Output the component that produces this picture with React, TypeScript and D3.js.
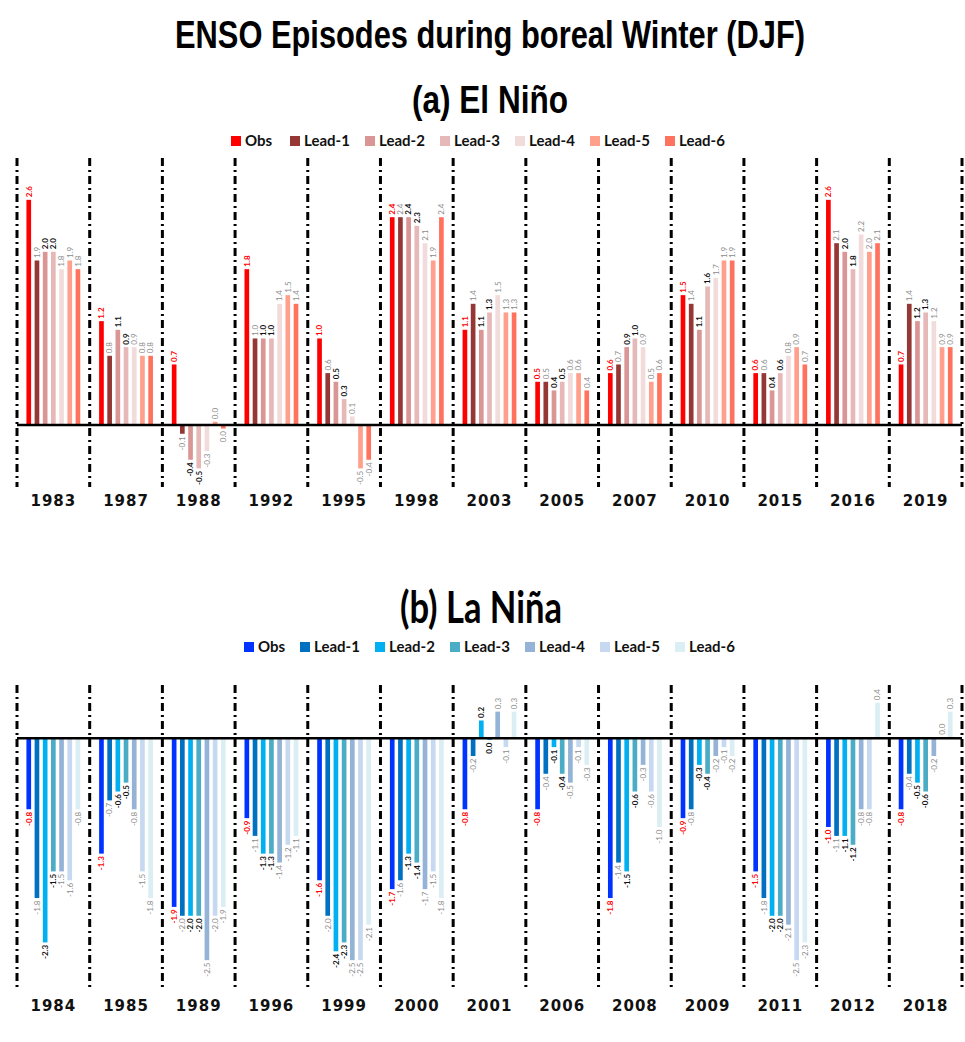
import React from 'react';
import * as d3 from 'd3';

const seriesNames = ['Obs', 'Lead-1', 'Lead-2', 'Lead-3', 'Lead-4', 'Lead-5', 'Lead-6'];

const elYears = ['1983', '1987', '1988', '1992', '1995', '1998', '2003', '2005', '2007', '2010', '2015', '2016', '2019'];
const elObs = [2.6, 1.2, 0.7, 1.8, 1.0, 2.4, 1.1, 0.5, 0.6, 1.5, 0.6, 2.6, 0.7];
const elLead1 = [1.9, 0.8, -0.1, 1.0, 0.6, 2.4, 1.4, 0.5, 0.7, 1.4, 0.6, 2.1, 1.4];
const elLead2 = [2.0, 1.1, -0.4, 1.0, 0.5, 2.4, 1.1, 0.4, 0.9, 1.1, 0.4, 2.0, 1.2];
const elLead3 = [2.0, 0.9, -0.5, 1.0, 0.3, 2.3, 1.3, 0.5, 1.0, 1.6, 0.6, 1.8, 1.3];
const elLead4 = [1.8, 0.9, -0.3, 1.4, 0.1, 2.1, 1.5, 0.6, 0.9, 1.7, 0.8, 2.2, 1.2];
const elLead5 = [1.9, 0.8, 0.04, 1.5, -0.5, 1.9, 1.3, 0.6, 0.5, 1.9, 0.9, 2.0, 0.9];
const elLead6 = [1.8, 0.8, -0.04, 1.4, -0.4, 2.4, 1.3, 0.4, 0.6, 1.9, 0.7, 2.1, 0.9];
const elColors = ['#FF0000', '#953735', '#D99694', '#E6B9B8', '#F2DCDB', '#FF9F8C', '#FF735E'];

const laYears = ['1984', '1985', '1989', '1996', '1999', '2000', '2001', '2006', '2008', '2009', '2011', '2012', '2018'];
const laObs = [-0.8, -1.3, -1.9, -0.9, -1.6, -1.7, -0.8, -0.8, -1.8, -0.9, -1.5, -1.0, -0.8];
const laLead1 = [-1.8, -0.7, -2.0, -1.1, -2.0, -1.6, -0.2, -0.4, -1.4, -0.8, -1.8, -1.1, -0.4];
const laLead2 = [-2.3, -0.6, -2.0, -1.3, -2.4, -1.3, 0.2, -0.1, -1.5, -0.3, -2.0, -1.1, -0.5];
const laLead3 = [-1.5, -0.5, -2.0, -1.3, -2.3, -1.4, -0.02, -0.4, -0.6, -0.4, -2.0, -1.2, -0.6];
const laLead4 = [-1.5, -0.8, -2.5, -1.4, -2.5, -1.7, 0.3, -0.5, -0.3, -0.2, -2.1, -0.8, -0.2];
const laLead5 = [-1.6, -1.5, -2.0, -1.2, -2.5, -1.5, -0.1, -0.1, -0.6, -0.1, -2.5, -0.8, 0.01];
const laLead6 = [-0.8, -1.8, -1.9, -1.1, -2.1, -1.8, 0.3, -0.3, -1.0, -0.2, -2.3, 0.4, 0.3];
const laColors = ['#0033FF', '#0070C0', '#00B0F0', '#4BACC6', '#95B3D7', '#C6D9F1', '#DAEEF3'];

const W = 965;
const H = 1042;

const fmt = (v: number) => {
  const s = Math.abs(v).toFixed(1);
  return (v < 0 && s !== '0.0' ? '-' : '') + s;
};

const labelStyle = (si: number) => {
  if (si === 0) return { fill: '#FF0000', fontWeight: 700 };
  if (si === 2 || si === 3) return { fill: '#111', fontWeight: 700 };
  return { fill: '#8C8C8C', fontWeight: 400 };
};

type PanelProps = {
  years: string[];
  series: number[][];
  colors: string[];
  yDomain: [number, number];
  yRange: [number, number];
  lineTop: number;
  lineBottom: number;
  yearY: number;
};

const Panel = ({ years, series, colors, yDomain, yRange, lineTop, lineBottom, yearY }: PanelProps) => {
  const x0 = d3.scaleBand<string>().domain(years).range([17, 962]).padding(0);
  const x1 = d3.scaleBand<string>().domain(seriesNames).range([0, x0.bandwidth()]).paddingInner(0.43).paddingOuter(1.15);
  const y = d3.scaleLinear().domain(yDomain).range(yRange);
  const y0 = y(0);
  const boundaries = [...years.map((yr) => x0(yr) as number), 962];
  return (
    <g>
      {boundaries.map((bx, i) => (
        <line key={'b' + i} x1={bx} x2={bx} y1={lineTop} y2={lineBottom} stroke="#000" strokeWidth={3} strokeDasharray="8,4,2,4" />
      ))}
      {years.map((yr, gi) => (
        <g key={yr} transform={`translate(${x0(yr)},0)`}>
          {series.map((vals, si) => {
            const v = vals[gi];
            const bx = x1(seriesNames[si]) as number;
            const yt = y(Math.max(0, v));
            const h = Math.abs(y(v) - y0);
            const cx = bx + x1.bandwidth() / 2;
            const ly = v >= 0 ? y(v) - 2.5 : y(v) + 2.5;
            const st = labelStyle(si);
            return (
              <g key={si}>
                <rect x={bx} y={yt} width={x1.bandwidth()} height={h} fill={colors[si]} />
                <text
                  transform={`translate(${cx},${ly}) rotate(-90)`}
                  textAnchor={v >= 0 ? 'start' : 'end'}
                  dy="0.35em"
                  fontSize={8}
                  fontFamily="Lato, 'Open Sans', sans-serif"
                  fill={st.fill}
                  fontWeight={st.fontWeight}
                >
                  {fmt(v)}
                </text>
              </g>
            );
          })}
          <text
            x={x0.bandwidth() / 2}
            y={yearY}
            textAnchor="middle"
            fontSize={15}
            fontWeight={700}
            letterSpacing={1}
            fontFamily="'DejaVu Sans', Verdana, sans-serif"
            fill="#111"
          >
            {yr}
          </text>
        </g>
      ))}
      <line x1={17} x2={962} y1={y0} y2={y0} stroke="#000" strokeWidth={2.5} />
    </g>
  );
};

const Legend = ({ colors, xs, y }: { colors: string[]; xs: number[]; y: number }) => (
  <g>
    {seriesNames.map((n, i) => (
      <g key={n} transform={`translate(${xs[i]},${y})`}>
        <rect x={0} y={-10} width={10} height={10} fill={colors[i]} />
        <text x={14} y={0} fontSize={15} fontWeight={700} fontFamily="Lato, 'Open Sans', sans-serif" fill="#111">
          {n}
        </text>
      </g>
    ))}
  </g>
);

export default function App() {
  const elSeries = [elObs, elLead1, elLead2, elLead3, elLead4, elLead5, elLead6];
  const laSeries = [laObs, laLead1, laLead2, laLead3, laLead4, laLead5, laLead6];
  return (
    <svg width={W} height={H} style={{ position: 'absolute', left: 0, top: 0, background: '#fff' }}>
      <rect width={W} height={H} fill="#fff" />
      <text
        x={490}
        y={48}
        textAnchor="middle"
        fontSize={38}
        fontWeight={700}
        fontFamily="'Liberation Sans Narrow', 'Arial Narrow', 'Liberation Sans', Arial, sans-serif"
        textLength={630}
        lengthAdjust="spacingAndGlyphs"
        fill="#000"
      >
        ENSO Episodes during boreal Winter (DJF)
      </text>
      <text
        x={490}
        y={113}
        textAnchor="middle"
        fontSize={38}
        fontWeight={700}
        fontFamily="'Liberation Sans Narrow', 'Arial Narrow', 'Liberation Sans', Arial, sans-serif"
        textLength={156}
        lengthAdjust="spacingAndGlyphs"
        fill="#000"
      >
        (a) El Niño
      </text>
      <Legend colors={elColors} xs={[231, 290, 365, 440, 515, 590, 665]} y={146} />
      <Panel
        years={elYears}
        series={elSeries}
        colors={elColors}
        yDomain={[-0.98, 3.06]}
        yRange={[510, 160]}
        lineTop={158}
        lineBottom={487}
        yearY={506}
      />
      <text
        x={481}
        y={623}
        textAnchor="middle"
        fontSize={44}
        fontWeight={700}
        fontFamily="Lato, 'Open Sans', sans-serif"
        textLength={162}
        lengthAdjust="spacingAndGlyphs"
        fill="#000"
      >
        (b) La Niña
      </text>
      <Legend colors={laColors} xs={[244, 300, 375, 450, 525, 600, 675]} y={652} />
      <Panel
        years={laYears}
        series={laSeries}
        colors={laColors}
        yDomain={[-2.87, 0.6]}
        yRange={[993, 685]}
        lineTop={685}
        lineBottom={990}
        yearY={1011}
      />
    </svg>
  );
}
